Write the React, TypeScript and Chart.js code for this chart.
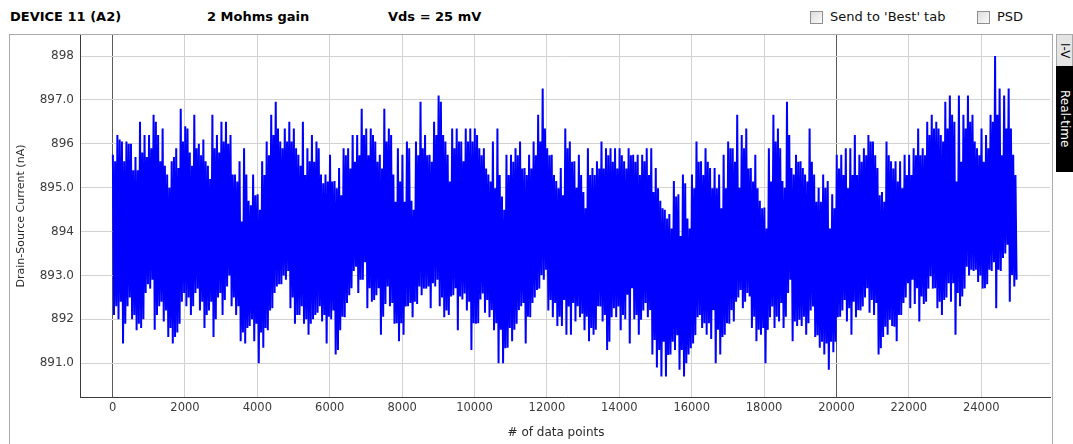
import React, { useEffect, useRef } from "react";
import { Chart, registerables } from "chart.js";

Chart.register(...registerables);

// Each bin covers 125 consecutive samples. For every bin the trace visits the
// highest sample, the lowest sample, then the next-highest and next-lowest.
const SAMPLES_PER_BIN = 125;

const BIN_PEAKS = [
  895.75, 896.2, 896.05, 896.05, 896.0, 895.7, 896.5, 896.2, 896.2, 896.66,
  896.2, 896.35, 895.3, 895.6, 895.9, 896.8, 896.4, 895.8, 896.66, 896.0,
  896.1, 895.5, 896.66, 896.2, 896.5, 896.5, 896.2, 895.3, 895.6, 895.9,
  894.7, 895.3, 894.85, 895.6, 896.05, 896.66, 896.96, 896.05, 896.35, 896.5,
  896.35, 895.75, 896.5, 895.9, 896.2, 896.05, 895.3, 895.3, 895.75, 895.15,
  895.45, 895.9, 895.9, 896.2, 896.2, 896.8, 896.35, 896.35, 896.05, 895.75,
  896.8, 896.35, 895.3, 895.9, 895.75, 896.05, 894.7, 896.05, 896.96, 896.2,
  895.75, 896.5, 897.1, 896.2, 895.75, 896.35, 896.35, 896.05, 896.35, 896.35,
  896.35, 895.9, 895.9, 895.3, 896.05, 896.35, 894.8, 895.75, 895.75, 895.9,
  896.05, 895.45, 895.75, 896.05, 896.66, 897.26, 895.9, 895.75, 895.15, 895.45,
  896.35, 896.05, 895.6, 895.75, 894.9, 895.9, 895.45, 895.6, 896.05, 895.9,
  895.9, 895.9, 895.9, 895.6, 895.9, 895.75, 895.75, 895.75, 895.9, 895.9,
  895.45, 894.7, 894.5, 894.4, 895.15, 894.85, 895.3, 894.3, 895.3, 896.05,
  895.6, 895.9, 895.45, 895.45, 895.3, 895.75, 896.05, 895.9, 896.66, 896.2,
  896.35, 895.45, 895.75, 894.7, 894.55, 895.9, 896.66, 896.35, 895.15, 896.96,
  895.45, 895.75, 895.6, 895.3, 896.35, 895.3, 895.0, 895.3, 895.15, 894.85,
  895.75, 895.75, 895.9, 895.9, 896.2, 895.75, 895.9, 896.2, 896.05, 895.45,
  894.9, 896.05, 895.6, 895.6, 895.6, 895.75, 895.75, 895.9, 896.35, 895.9,
  896.5, 896.66, 896.5, 896.2, 896.96, 897.1, 896.5, 897.1, 896.66, 897.1,
  896.66, 895.9, 896.35, 896.2, 896.66, 898.0, 897.26, 897.1, 897.26, 895.75,
];

const BIN_TROUGHS = [
  892.1, 892.0, 891.45, 892.3, 892.0, 891.75, 891.8, 892.6, 892.7, 891.76,
  892.3, 891.95, 891.6, 891.45, 891.7, 892.4, 892.3, 892.1, 892.6, 892.2,
  891.8, 892.2, 891.6, 892.5, 892.1, 892.75, 892.3, 892.1, 891.5, 891.45,
  891.85, 891.5, 891.0, 891.35, 891.75, 892.25, 892.75, 892.8, 892.9, 892.25,
  891.9, 892.1, 891.9, 891.65, 892.0, 892.15, 891.95, 891.45, 892.0, 891.2,
  891.75, 892.05, 892.55, 893.1, 892.6, 892.9, 892.25, 892.4, 892.55, 891.65,
  892.35, 892.3, 891.9, 891.5, 891.65, 892.3, 892.05, 892.35, 892.55, 892.7,
  892.25, 892.75, 892.3, 892.05, 892.1, 892.55, 891.75, 892.45, 892.2, 891.3,
  891.9, 892.45, 892.15, 892.05, 891.75, 891.0, 891.0, 891.35, 891.5, 891.9,
  892.3, 891.45, 892.05, 892.5, 892.7, 892.9, 892.2, 892.05, 891.85, 891.85,
  891.65, 891.65, 891.95, 892.05, 891.75, 891.5, 891.65, 892.3, 891.95, 891.3,
  892.05, 892.05, 891.75, 892.0, 891.45, 892.0, 891.65, 892.2, 892.05, 891.2,
  890.9, 890.7, 890.7, 891.2, 891.3, 890.85, 890.7, 891.2, 891.45, 892.05,
  891.8, 891.65, 891.55, 891.0, 891.2, 891.65, 891.9, 891.95, 892.5, 892.25,
  892.6, 891.8, 891.5, 891.65, 891.0, 892.05, 891.8, 891.95, 891.8, 892.6,
  891.5, 891.85, 891.85, 891.65, 892.2, 891.6, 891.35, 891.2, 890.85, 891.25,
  892.05, 892.2, 891.95, 891.65, 892.05, 892.2, 892.5, 892.15, 892.1, 891.2,
  891.6, 891.65, 891.85, 891.5, 892.1, 892.5, 892.25, 892.35, 891.95, 892.35,
  892.7, 892.7, 892.25, 892.1, 892.5, 892.4, 891.65, 892.3, 892.7, 893.0,
  893.1, 892.85, 892.7, 892.8, 893.1, 892.25, 893.1, 893.5, 892.4, 892.75,
];

const BIN_PEAKS_2ND = [
  895.6, 896.1, 895.6, 896.0, 895.4, 895.4, 895.8, 895.7, 895.9, 896.5,
  895.6, 895.5, 895.0, 895.7, 895.45, 896.05, 896.35, 895.5, 895.9, 895.74,
  895.6, 895.2, 895.9, 895.8, 896.05, 896.0, 895.3, 895.14, 894.23, 895.3,
  894.6, 894.83, 894.5, 895.29, 895.74, 896.2, 896.35, 895.9, 896.05, 896.05,
  895.9, 895.5, 895.29, 895.6, 895.59, 895.9, 895.1, 895.14, 895.14, 894.99,
  894.83, 895.74, 895.44, 895.59, 895.74, 896.2, 895.74, 896.2, 895.59, 895.44,
  896.05, 896.2, 894.68, 895.14, 894.68, 895.9, 894.5, 895.74, 895.9, 895.74,
  895.59, 896.2, 896.96, 896.05, 895.14, 895.9, 896.05, 895.6, 896.05, 896.05,
  896.2, 895.74, 895.44, 895.14, 894.99, 895.29, 894.5, 895.29, 895.59, 895.74,
  895.44, 895.29, 895.44, 895.74, 896.05, 896.35, 895.74, 895.29, 894.99, 894.83,
  895.9, 895.59, 895.0, 895.29, 894.53, 895.29, 895.29, 895.44, 895.44, 895.74,
  895.59, 895.44, 895.74, 895.44, 895.74, 895.59, 895.29, 895.6, 895.29, 894.9,
  894.99, 894.53, 894.3, 894.07, 894.8, 893.9, 895.1, 894.07, 894.99, 895.59,
  895.29, 895.59, 894.99, 894.99, 894.53, 894.99, 895.9, 895.59, 895.0, 895.9,
  895.44, 895.14, 894.99, 894.53, 894.07, 895.14, 896.05, 895.9, 895.0, 896.2,
  895.3, 895.59, 895.45, 895.14, 895.59, 894.68, 894.68, 895.0, 894.07, 894.53,
  895.44, 895.29, 894.99, 895.29, 895.29, 895.59, 895.74, 896.05, 895.74, 894.83,
  894.68, 895.74, 895.44, 895.14, 894.99, 895.29, 895.29, 895.74, 895.74, 895.74,
  896.2, 896.35, 896.35, 896.05, 896.35, 896.66, 895.14, 895.59, 896.35, 896.5,
  896.05, 895.74, 895.59, 895.9, 896.5, 896.66, 895.74, 896.35, 896.35, 895.29,
];

const BIN_TROUGHS_2ND = [
  892.3, 892.4, 891.9, 892.5, 892.1, 891.9, 892.0, 892.8, 892.9, 892.1,
  892.4, 892.2, 891.8, 891.6, 891.9, 892.6, 892.5, 892.3, 892.7, 892.4,
  892.1, 892.4, 892.0, 892.6, 892.44, 893.0, 892.5, 892.3, 891.7, 891.8,
  892.0, 891.9, 891.7, 891.8, 892.2, 892.6, 892.8, 893.0, 893.1, 892.5,
  892.1, 892.3, 892.0, 891.9, 892.1, 892.3, 892.1, 892.06, 892.2, 891.3,
  892.06, 892.37, 892.71, 893.2, 892.9, 893.3, 892.71, 892.44, 892.71, 892.06,
  892.75, 892.37, 891.91, 891.91, 892.29, 892.37, 892.4, 892.75, 892.7, 892.75,
  892.82, 892.9, 892.5, 892.2, 892.52, 892.71, 892.52, 892.59, 892.4, 891.91,
  891.91, 892.59, 892.44, 892.21, 891.91, 891.76, 891.34, 891.8, 891.76, 892.21,
  892.37, 892.06, 892.37, 892.67, 893.01, 893.13, 892.44, 892.37, 892.06, 892.44,
  892.29, 892.37, 892.3, 892.13, 892.06, 891.8, 891.76, 892.29, 892.1, 891.49,
  892.25, 892.29, 892.1, 892.56, 892.71, 892.1, 891.99, 892.37, 892.21, 891.53,
  891.3, 891.49, 891.19, 891.49, 891.64, 891.3, 891.0, 891.34, 891.64, 892.1,
  891.91, 891.91, 892.21, 891.76, 891.6, 891.91, 892.21, 892.4, 892.67, 892.4,
  892.52, 892.06, 891.76, 891.8, 891.76, 892.29, 892.06, 892.37, 892.06, 892.9,
  891.95, 891.99, 892.06, 891.91, 892.29, 891.64, 891.49, 891.45, 891.49, 891.49,
  892.06, 892.44, 892.25, 892.4, 892.21, 892.29, 892.71, 892.44, 892.37, 891.34,
  891.83, 891.99, 891.83, 892.1, 892.37, 892.82, 892.9, 892.71, 892.52, 892.4,
  892.98, 892.71, 892.4, 892.44, 892.82, 892.82, 892.6, 892.52, 893.2, 893.13,
  893.13, 893.0, 892.71, 893.13, 893.3, 893.13, 893.4, 893.7, 893.01, 892.9,
];

const X_TICKS = [0, 2000, 4000, 6000, 8000, 10000, 12000, 14000, 16000, 18000, 20000, 22000, 24000];
const X_MARKED = [0, 20000];
const Y_TICKS = [891, 892, 893, 894, 895, 896, 897, 898];
const Y_TICK_LABELS = ["891.0", "892", "893.0", "894", "895.0", "896", "897.0", "898"];

const TRACE_BLUE = "#0000ff";
const FONT = "'DejaVu Sans', Verdana, sans-serif";

function buildTrace() {
  const pts: { x: number; y: number }[] = [];
  const q = SAMPLES_PER_BIN / 4;
  for (let i = 0; i < BIN_PEAKS.length; i++) {
    const start = i * SAMPLES_PER_BIN;
    pts.push({ x: start + 8, y: BIN_PEAKS[i] });
    pts.push({ x: start + 8 + q, y: BIN_TROUGHS[i] });
    pts.push({ x: start + 8 + 2 * q, y: BIN_PEAKS_2ND[i] });
    pts.push({ x: start + 8 + 3 * q, y: BIN_TROUGHS_2ND[i] });
  }
  return pts;
}

function PlotCanvas() {
  const ref = useRef<HTMLCanvasElement | null>(null);

  useEffect(() => {
    if (!ref.current) return;
    const chart = new Chart(ref.current, {
      type: "line",
      data: {
        datasets: [
          {
            data: buildTrace(),
            borderColor: TRACE_BLUE,
            borderWidth: 2,
            pointRadius: 0,
            tension: 0,
            fill: false,
          },
        ],
      },
      options: {
        responsive: false,
        animation: false,
        parsing: false,
        normalized: true,
        events: [],
        layout: { padding: { left: 0, top: 35, right: 23, bottom: 0 } },
        plugins: { legend: { display: false }, tooltip: { enabled: false } },
        scales: {
          x: {
            type: "linear",
            min: -900,
            max: 25900,
            afterBuildTicks: (s: any) => {
              s.ticks = X_TICKS.map((value) => ({ value }));
            },
            afterFit: (s: any) => {
              s.height = 47;
            },
            grid: {
              drawTicks: false,
              color: (ctx: any) => (X_MARKED.includes(ctx.tick?.value) ? "#5a5a5a" : "#d2d2d2"),
            },
            border: { color: "#3a3a3a" },
            ticks: {
              padding: 4,
              color: "#3c3c3c",
              font: { family: FONT, size: 11.5 },
              maxRotation: 0,
              autoSkip: false,
              callback: (v: any) => String(v),
            },
          },
          y: {
            type: "linear",
            min: 890.23,
            max: 898.48,
            afterBuildTicks: (s: any) => {
              s.ticks = Y_TICKS.map((value) => ({ value }));
            },
            afterFit: (s: any) => {
              s.width = 80;
            },
            grid: { drawTicks: false, color: "#d2d2d2" },
            border: { color: "#3a3a3a" },
            ticks: {
              padding: 6,
              color: "#3c3c3c",
              font: { family: FONT, size: 12 },
              autoSkip: false,
              callback: (v: any) => {
                const idx = Y_TICKS.indexOf(Number(v));
                return idx >= 0 ? Y_TICK_LABELS[idx] : "";
              },
            },
            title: {
              display: true,
              text: "Drain-Source Current (nA)",
              color: "#2a2a2a",
              font: { family: FONT, size: 11 },
              padding: { top: 14.4, bottom: 0 },
            },
          },
        },
      },
    } as any);
    return () => chart.destroy();
  }, []);

  return (
    <canvas
      ref={ref}
      width={1073}
      height={444}
      style={{ position: "absolute", left: 0, top: 0, width: 1073, height: 444 }}
    />
  );
}

function CheckBox({ left, label }: { left: number; label: string }) {
  return (
    <>
      <span
        style={{
          position: "absolute",
          left,
          top: 11,
          width: 11,
          height: 11,
          border: "1px solid #8f8f8f",
          background: "linear-gradient(135deg, #dcdcdc, #fbfbfb)",
        }}
      />
      <span
        style={{
          position: "absolute",
          left: left + 20,
          top: 9,
          fontFamily: FONT,
          fontSize: 13,
          lineHeight: "16px",
          color: "#111",
          whiteSpace: "nowrap",
        }}
      >
        {label}
      </span>
    </>
  );
}

export default function App() {
  const header: React.CSSProperties = {
    position: "absolute",
    top: 9,
    fontFamily: FONT,
    fontWeight: "bold",
    fontSize: 13,
    lineHeight: "16px",
    color: "#000",
    whiteSpace: "nowrap",
  };
  const tab: React.CSSProperties = {
    position: "absolute",
    left: 1056,
    width: 17,
    writingMode: "vertical-rl",
    fontFamily: FONT,
    fontSize: 12,
    display: "flex",
    alignItems: "center",
    justifyContent: "center",
    boxSizing: "border-box",
  };
  return (
    <div
      style={{
        position: "fixed",
        left: 0,
        top: 0,
        width: 1073,
        height: 444,
        background: "#fff",
        overflow: "hidden",
      }}
    >
      <div style={{ ...header, left: 10 }}>DEVICE 11 (A2)</div>
      <div style={{ ...header, left: 207 }}>2 Mohms gain</div>
      <div style={{ ...header, left: 388 }}>Vds = 25 mV</div>
      <CheckBox left={810} label="Send to 'Best' tab" />
      <CheckBox left={977} label="PSD" />

      <div
        style={{
          position: "absolute",
          left: 9,
          top: 34,
          width: 1044,
          height: 430,
          border: "1px solid #aaaaaa",
          boxSizing: "border-box",
        }}
      />

      <PlotCanvas />

      <div
        style={{
          position: "absolute",
          left: 456,
          width: 200,
          top: 425,
          textAlign: "center",
          fontFamily: FONT,
          fontSize: 12,
          lineHeight: "14px",
          color: "#2a2a2a",
        }}
      >
        # of data points
      </div>

      <div
        style={{
          ...tab,
          top: 34,
          height: 33,
          background: "#e4e4e4",
          border: "1px solid #a8a8a8",
          color: "#000",
        }}
      >
        I-V
      </div>
      <div style={{ ...tab, top: 66, height: 106, background: "#000", color: "#fff" }}>Real-time</div>
    </div>
  );
}
